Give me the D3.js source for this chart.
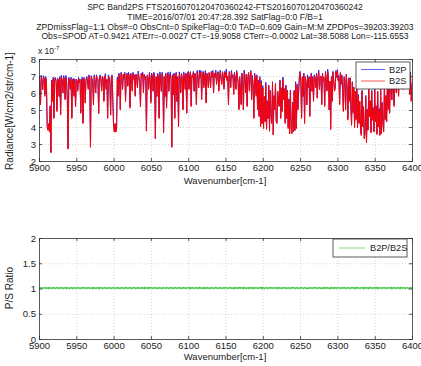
<!DOCTYPE html>
<html>
<head>
<meta charset="utf-8">
<script src="https://cdn.jsdelivr.net/npm/d3@7"></script>
<style>
  body { margin: 0; background: #fff; }
  text { font-family: "Liberation Sans", Arial, Helvetica, sans-serif; fill: #222; }
</style>
</head>
<body>
<svg id="chart" width="421" height="366"></svg>
<script>
// ---- header text ----
const titleLines = [
  "SPC Band2PS FTS2016070120470360242-FTS2016070120470360242",
  "TIME=2016/07/01 20:47:28.392 SatFlag=0:0 F/B=1",
  "ZPDmissFlag=1:1 Obs#=0 ObsCnt=0 SpikeFlag=0:0 TAD=0.609 Gain=M:M ZPDPos=39203:39203",
  "Obs=SPOD AT=0.9421 ATErr=-0.0027 CT=-19.9058 CTerr=-0.0002 Lat=38.5088 Lon=-115.6553"
];

// ---- axis ticks ----
const xTicks = [5900, 5950, 6000, 6050, 6100, 6150, 6200, 6250, 6300, 6350, 6400];
const radianceTicks = [2, 3, 4, 5, 6, 7, 8];
const ratioTicks = [0, 0.5, 1, 1.5, 2];

// ---- spectrum, 1 cm-1 grid from 5900 to 6400 ----
const wavenumber = d3.range(5900, 6401, 1);

// B2S radiance in units of 1e-7 W/cm2/str/cm-1 (one row = 10 cm-1)
const b2s = [
  6.9, 6.7, 5.3, 6.9, 6.7, 6.2, 6.95, 6.8, 5.8, 6.9,
  6.6, 4.0, 3.8, 4.2, 3.7, 5.2, 2.5, 6.7, 5.5, 6.8,
  4.5, 6.8, 6.9, 6.6, 4.9, 6.8, 6.7, 5.8, 6.9, 4.7,
  6.9, 6.7, 6.0, 6.95, 6.8, 5.6, 6.9, 6.7, 5.5, 2.7,
  6.85, 6.6, 6.2, 6.8, 4.5, 6.7, 6.85, 5.8, 6.7, 5.2,
  6.8, 6.7, 6.1, 6.85, 6.6, 6.8, 4.8, 6.7, 6.8, 4.2,
  6.85, 6.6, 5.4, 6.8, 6.9, 6.7, 6.2, 7.0, 6.8, 2.8,
  6.95, 6.8, 6.6, 5.3, 7.0, 6.7, 6.0, 7.0, 6.8, 6.7,
  4.8, 6.9, 7.0, 6.7, 6.1, 7.0, 6.8, 5.5, 6.9, 7.0,
  6.2, 6.8, 4.5, 7.0, 6.8, 6.6, 4.7, 6.9, 7.0, 5.5,
  4.0, 3.7, 4.2, 3.7, 3.9, 6.8, 5.8, 7.1, 6.9, 5.0,
  7.15, 6.9, 6.2, 7.1, 6.8, 7.15, 5.5, 6.9, 7.1, 6.4,
  7.15, 6.9, 5.1, 7.1, 6.9, 6.1, 7.15, 6.8, 7.0, 5.8,
  7.1, 6.9, 6.3, 7.15, 6.9, 6.7, 5.2, 7.1, 6.9, 7.15,
  6.0, 7.1, 6.8, 6.9, 3.75, 7.0, 6.9, 6.2, 7.15, 6.8,
  5.4, 7.1, 6.9, 6.1, 7.15, 6.8, 3.3, 6.9, 5.8, 7.1,
  6.9, 4.5, 7.1, 6.8, 6.1, 7.15, 6.9, 3.65, 6.9, 5.8,
  7.1, 5.1, 6.9, 7.15, 6.1, 6.9, 7.1, 6.8, 2.8, 7.0,
  5.9, 7.1, 4.5, 6.9, 7.15, 5.5, 6.9, 4.0, 7.1, 6.9,
  6.0, 7.15, 6.8, 5.0, 7.1, 6.9, 6.2, 7.15, 4.8, 7.0,
  7.2, 6.2, 6.9, 7.25, 5.2, 7.0, 6.9, 7.2, 6.1, 7.1,
  6.8, 5.3, 7.25, 6.9, 6.3, 7.2, 6.9, 7.25, 5.6, 7.0,
  7.2, 6.3, 6.9, 7.25, 5.4, 7.1, 6.9, 6.3, 7.2, 6.9,
  6.3, 7.2, 6.9, 7.25, 6.0, 7.1, 6.9, 7.2, 6.5, 7.0,
  7.25, 6.1, 6.9, 7.2, 6.8, 6.5, 7.25, 6.9, 6.2, 7.2,
  6.9, 7.25, 6.7, 7.0, 5.3, 7.2, 6.9, 6.3, 7.25, 6.9,
  7.0, 5.9, 7.2, 6.8, 6.2, 7.25, 6.9, 6.6, 5.0, 6.9,
  6.2, 5.3, 7.1, 6.7, 5.0, 7.2, 6.9, 6.0, 7.1, 5.2,
  6.9, 7.2, 6.1, 6.9, 7.25, 5.6, 6.9, 6.5, 4.5, 7.1,
  6.8, 5.8, 7.0, 5.0, 6.7, 4.6, 6.9, 4.0, 6.6, 4.2,
  6.3, 3.9, 5.8, 4.3, 6.5, 3.85, 5.5, 4.5, 6.4, 3.75,
  6.1, 4.6, 4.2, 6.6, 3.55, 5.8, 5.0, 6.5, 4.3, 4.2,
  6.1, 5.5, 5.2, 6.7, 4.5, 6.3, 4.9, 6.8, 5.6, 6.2,
  4.2, 6.4, 4.5, 6.1, 3.9, 5.6, 3.6, 6.1, 4.0, 3.6,
  5.4, 3.7, 6.1, 3.8, 6.6, 3.9, 6.4, 5.0, 6.0, 6.9,
  7.2, 6.6, 4.5, 6.9, 5.8, 7.1, 4.2, 6.9, 6.6, 5.3,
  7.0, 6.3, 6.9, 4.6, 6.7, 7.1, 6.1, 6.9, 5.5, 7.0,
  6.8, 6.3, 7.1, 5.7, 6.9, 7.2, 6.2, 6.9, 7.0, 5.3,
  7.1, 6.7, 6.9, 5.2, 7.2, 6.8, 6.1, 7.25, 6.9, 5.0,
  6.7, 3.85, 6.9, 5.5, 7.2, 6.8, 6.1, 6.2, 7.25, 6.9,
  7.3, 6.7, 6.9, 5.3, 7.2, 6.5, 7.0, 6.1, 4.9, 6.9,
  6.7, 5.0, 7.1, 6.3, 4.4, 6.8, 5.5, 6.9, 5.2, 4.1,
  6.6, 4.8, 6.3, 3.95, 6.1, 4.4, 6.7, 3.95, 5.8, 4.2,
  5.5, 3.9, 3.5, 6.1, 4.0, 5.2, 3.3, 3.6, 5.8, 3.07,
  5.0, 3.8, 6.3, 4.6, 5.5, 3.65, 6.1, 4.4, 5.1, 3.7,
  6.2, 4.3, 5.2, 3.55, 6.1, 4.0, 5.0, 3.5, 6.3, 3.6,
  5.4, 4.2, 3.7, 6.4, 4.4, 5.8, 4.3, 6.6, 5.0, 6.3,
  4.8, 6.8, 6.1, 5.6, 6.9, 6.5, 5.2, 7.1, 6.6, 6.0,
  7.2, 6.7, 5.8, 7.25, 6.9, 6.3, 7.2, 6.8, 6.2, 7.3,
  6.9, 6.7, 7.25, 7.0, 6.9, 7.3, 6.6, 5.9, 7.1, 5.5,
  6.5
];

// B2P / B2S ratio on the same grid
const ratio = [
  1.01, 1.00, 1.01, 1.02, 1.01, 1.00, 1.01, 1.01, 1.02, 1.01,
  1.00, 1.01, 1.01, 1.00, 1.02, 1.01, 1.00, 1.01, 1.01, 1.02,
  1.01, 1.01, 1.00, 1.01, 1.02, 1.01, 1.01, 1.00, 1.01, 1.01,
  1.02, 1.01, 1.00, 1.01, 1.01, 1.01, 1.02, 1.00, 1.01, 1.01,
  1.01, 1.00, 1.01, 1.02, 1.01, 1.01, 1.00, 1.01, 1.02, 1.01,
  1.00, 1.01, 1.02, 1.01, 1.01, 1.00, 1.01, 1.01, 1.02, 1.01,
  1.01, 1.02, 1.01, 1.00, 1.01, 1.01, 1.02, 1.01, 1.00, 1.01,
  1.01, 1.01, 1.00, 1.02, 1.01, 1.01, 1.00, 1.01, 1.01, 1.02,
  1.00, 1.01, 1.01, 1.02, 1.01, 1.00, 1.01, 1.01, 1.01, 1.02,
  1.01, 1.00, 1.01, 1.01, 1.02, 1.01, 1.00, 1.01, 1.01, 1.01,
  1.02, 1.01, 1.00, 1.01, 1.01, 1.02, 1.01, 1.01, 1.00, 1.01,
  1.01, 1.02, 1.01, 1.00, 1.01, 1.01, 1.01, 1.02, 1.01, 1.00,
  1.01, 1.01, 1.02, 1.01, 1.00, 1.01, 1.01, 1.02, 1.01, 1.01,
  1.00, 1.01, 1.01, 1.02, 1.01, 1.01, 1.00, 1.01, 1.02, 1.01,
  1.01, 1.00, 1.02, 1.01, 1.01, 1.01, 1.00, 1.02, 1.01, 1.01,
  1.02, 1.01, 1.01, 1.00, 1.01, 1.02, 1.01, 1.01, 1.00, 1.01,
  1.01, 1.01, 1.02, 1.01, 1.00, 1.01, 1.01, 1.02, 1.01, 1.00,
  1.01, 1.02, 1.01, 1.01, 1.00, 1.01, 1.02, 1.01, 1.01, 1.01,
  1.00, 1.01, 1.01, 1.02, 1.01, 1.00, 1.01, 1.01, 1.02, 1.01,
  1.01, 1.00, 1.01, 1.01, 1.02, 1.01, 1.01, 1.00, 1.01, 1.02,
  1.01, 1.01, 1.02, 1.00, 1.01, 1.01, 1.02, 1.01, 1.00, 1.01,
  1.02, 1.01, 1.01, 1.01, 1.00, 1.02, 1.01, 1.01, 1.01, 1.00,
  1.01, 1.02, 1.00, 1.01, 1.01, 1.01, 1.02, 1.01, 1.00, 1.01,
  1.01, 1.01, 1.02, 1.01, 1.00, 1.01, 1.01, 1.02, 1.01, 1.01,
  1.00, 1.01, 1.01, 1.02, 1.01, 1.01, 1.00, 1.01, 1.02, 1.01,
  1.01, 1.02, 1.01, 1.00, 1.01, 1.01, 1.02, 1.01, 1.01, 1.00,
  1.01, 1.01, 1.00, 1.02, 1.01, 1.01, 1.01, 1.00, 1.02, 1.01,
  1.02, 1.01, 1.01, 1.01, 1.00, 1.02, 1.01, 1.01, 1.00, 1.01,
  1.01, 1.00, 1.02, 1.01, 1.01, 1.01, 1.02, 1.00, 1.01, 1.01,
  1.01, 1.02, 1.01, 1.00, 1.01, 1.02, 1.01, 1.01, 1.02, 1.00,
  1.02, 1.01, 1.00, 1.01, 1.02, 1.01, 1.01, 1.00, 1.01, 1.02,
  1.01, 1.01, 1.02, 1.01, 1.00, 1.01, 1.02, 1.01, 1.01, 1.01,
  1.00, 1.02, 1.01, 1.01, 1.01, 1.00, 1.01, 1.02, 1.01, 1.01,
  1.02, 1.01, 1.00, 1.01, 1.02, 1.01, 1.00, 1.01, 1.01, 1.02,
  1.01, 1.02, 1.01, 1.00, 1.01, 1.01, 1.02, 1.01, 1.00, 1.01,
  1.01, 1.01, 1.02, 1.01, 1.00, 1.01, 1.02, 1.01, 1.01, 1.00,
  1.01, 1.00, 1.01, 1.02, 1.01, 1.01, 1.00, 1.01, 1.02, 1.01,
  1.02, 1.01, 1.01, 1.00, 1.01, 1.02, 1.01, 1.01, 1.00, 1.01,
  1.01, 1.01, 1.00, 1.02, 1.01, 1.01, 1.01, 1.02, 1.01, 1.00,
  1.00, 1.02, 1.01, 1.01, 1.01, 1.00, 1.02, 1.01, 1.01, 1.01,
  1.01, 1.01, 1.02, 1.01, 1.00, 1.01, 1.01, 1.02, 1.01, 1.01,
  1.02, 1.01, 1.00, 1.01, 1.02, 1.01, 1.01, 1.00, 1.01, 1.02,
  1.01, 1.02, 1.01, 1.01, 1.00, 1.02, 1.01, 1.01, 1.02, 1.01,
  1.00, 1.01, 1.02, 1.01, 1.01, 1.00, 1.02, 1.01, 1.01, 1.02,
  1.01, 1.01, 1.00, 1.02, 1.01, 1.02, 1.01, 1.00, 1.01, 1.01,
  1.02, 1.01, 1.01, 1.02, 1.00, 1.01, 1.02, 1.01, 1.01, 1.00,
  1.01, 1.02, 1.01, 1.01, 1.02, 1.01, 1.00, 1.01, 1.02, 1.01,
  1.01, 1.01, 1.02, 1.00, 1.01, 1.01, 1.02, 1.01, 1.00, 1.01,
  1.02, 1.01, 1.01, 1.01, 1.00, 1.02, 1.01, 1.01, 1.01, 1.02,
  1.01, 1.00, 1.01, 1.02, 1.01, 1.01, 1.00, 1.01, 1.02, 1.01,
  1.01
];

// B2P follows from B2S and the measured ratio
const b2p = b2s.map((v, i) => v * ratio[i]);

// ---- layout ----
const svg = d3.select("#chart");
const plotLeft = 39, plotRight = 412;
const x = d3.scaleLinear().domain([5900, 6400]).range([plotLeft, plotRight]);
const yRad = d3.scaleLinear().domain([2, 8]).range([161, 59]);
const yRatio = d3.scaleLinear().domain([0, 2]).range([339, 238]);

// title block
svg.append("g").selectAll("text").data(titleLines).join("text")
  .attr("x", 225)
  .attr("y", (d, i) => 10.2 + i * 9.7)
  .attr("text-anchor", "middle")
  .attr("font-size", 8.6)
  .text(d => d);

function drawPanel(y, yTicks, yFormat, clipId) {
  const [yb, yt] = y.range();
  const g = svg.append("g");
  const h = yb - yt;
  const w = plotRight - plotLeft;

  g.append("rect").attr("x", plotLeft).attr("y", yt).attr("width", w).attr("height", h)
    .attr("fill", "#fff");

  // dotted grid
  const grid = g.append("g").attr("class", "grid");
  grid.append("g").attr("transform", `translate(0,${yb})`)
    .call(d3.axisBottom(x).tickValues(xTicks).tickSize(-h).tickFormat(""));
  grid.append("g").attr("transform", `translate(${plotLeft},0)`)
    .call(d3.axisLeft(y).tickValues(yTicks).tickSize(-w).tickFormat(""));
  grid.selectAll(".domain").remove();
  grid.selectAll("line").attr("stroke", "#c8c8c8").attr("stroke-width", 0.8)
    .attr("stroke-dasharray", "1,2");

  svg.append("clipPath").attr("id", clipId).append("rect")
    .attr("x", plotLeft).attr("y", yt).attr("width", w).attr("height", h);

  return { g, yb, yt, w, h, y, yTicks, yFormat };
}

function drawFrame(p) {
  const { g, yb, yt, y, yTicks, yFormat } = p;
  const axes = g.append("g");
  const bottomAxis = axes.append("g").attr("transform", `translate(0,${yb})`)
    .call(d3.axisBottom(x).tickValues(xTicks).tickSize(-3).tickPadding(2).tickFormat(d3.format("d")));
  axes.append("g").attr("transform", `translate(0,${yt})`)
    .call(d3.axisTop(x).tickValues(xTicks).tickSize(-3).tickFormat(""));
  axes.append("g").attr("transform", `translate(${plotLeft},0)`)
    .call(d3.axisLeft(y).tickValues(yTicks).tickSize(-3).tickPadding(3).tickFormat(yFormat));
  axes.append("g").attr("transform", `translate(${plotRight},0)`)
    .call(d3.axisRight(y).tickValues(yTicks).tickSize(-3).tickFormat(""));
  axes.selectAll(".domain").attr("stroke", "#333").attr("stroke-width", 0.8);
  axes.selectAll(".tick line").attr("stroke", "#333").attr("stroke-width", 0.8);
  axes.selectAll(".tick text").attr("font-size", 9.5).attr("fill", "#222")
    .attr("font-family", "'Liberation Sans', Arial, sans-serif");
  bottomAxis.selectAll(".tick text").attr("dy", "0.85em");
}

// ---- upper panel: radiance ----
const radPanel = drawPanel(yRad, radianceTicks, d3.format("d"), "clipTop");
const radLine = (vals) => d3.line().x((d, i) => x(wavenumber[i])).y(d => yRad(d))(vals);

radPanel.g.append("g").attr("clip-path", "url(#clipTop)")
  .append("path").attr("d", radLine(b2p))
  .attr("fill", "none").attr("stroke", "#2222ee").attr("stroke-width", 1.0);
radPanel.g.append("g").attr("clip-path", "url(#clipTop)")
  .append("path").attr("d", radLine(b2s))
  .attr("fill", "none").attr("stroke", "#ff0000").attr("stroke-width", 1.0);

// legend (upper)
const legTop = svg.append("g").attr("transform", "translate(356,62)");
legTop.append("rect").attr("width", 54).attr("height", 27)
  .attr("fill", "#fff").attr("stroke", "#333").attr("stroke-width", 0.8);
[["B2P", "#5050ff"], ["B2S", "#ff4040"]].forEach(([name, col], i) => {
  const yy = 7.5 + i * 11.5;
  legTop.append("line").attr("x1", 5).attr("x2", 29).attr("y1", yy).attr("y2", yy)
    .attr("stroke", col).attr("stroke-width", 0.9);
  legTop.append("text").attr("x", 33).attr("y", yy + 3.3).attr("font-size", 9.2).text(name);
});

drawFrame(radPanel);

// exponent note and labels
const expo = svg.append("text").attr("x", 38).attr("y", 53.5).attr("font-size", 8.5);
expo.append("tspan").text("x 10");
expo.append("tspan").attr("font-size", 6).attr("dy", -3.5).text("-7");

svg.append("text").attr("x", 225).attr("y", 184).attr("text-anchor", "middle")
  .attr("font-size", 9.5).text("Wavenumber[cm-1]");
svg.append("text").attr("transform", "translate(13,111) rotate(-90)")
  .attr("text-anchor", "middle").attr("font-size", 10).text("Radiance[W/cm2/str/cm-1]");

// ---- lower panel: P/S ratio ----
const ratioPanel = drawPanel(yRatio, ratioTicks, d3.format("~g"), "clipBot");
ratioPanel.g.append("g").attr("clip-path", "url(#clipBot)")
  .append("path")
  .attr("d", d3.line().x((d, i) => x(wavenumber[i])).y(d => yRatio(d))(ratio))
  .attr("fill", "none").attr("stroke", "#3ccc3c").attr("stroke-width", 1.4);

const legBot = svg.append("g").attr("transform", "translate(333,239)");
legBot.append("rect").attr("width", 74).attr("height", 18)
  .attr("fill", "#fff").attr("stroke", "#333").attr("stroke-width", 0.8);
legBot.append("line").attr("x1", 6).attr("x2", 32).attr("y1", 9).attr("y2", 9)
  .attr("stroke", "#66dd66").attr("stroke-width", 0.9);
legBot.append("text").attr("x", 37).attr("y", 12.3).attr("font-size", 9.2).text("B2P/B2S");

drawFrame(ratioPanel);

svg.append("text").attr("x", 225).attr("y", 360).attr("text-anchor", "middle")
  .attr("font-size", 9.5).text("Wavenumber[cm-1]");
svg.append("text").attr("transform", "translate(13,288) rotate(-90)")
  .attr("text-anchor", "middle").attr("font-size", 10).text("P/S Ratio");
</script>
</body>
</html>
